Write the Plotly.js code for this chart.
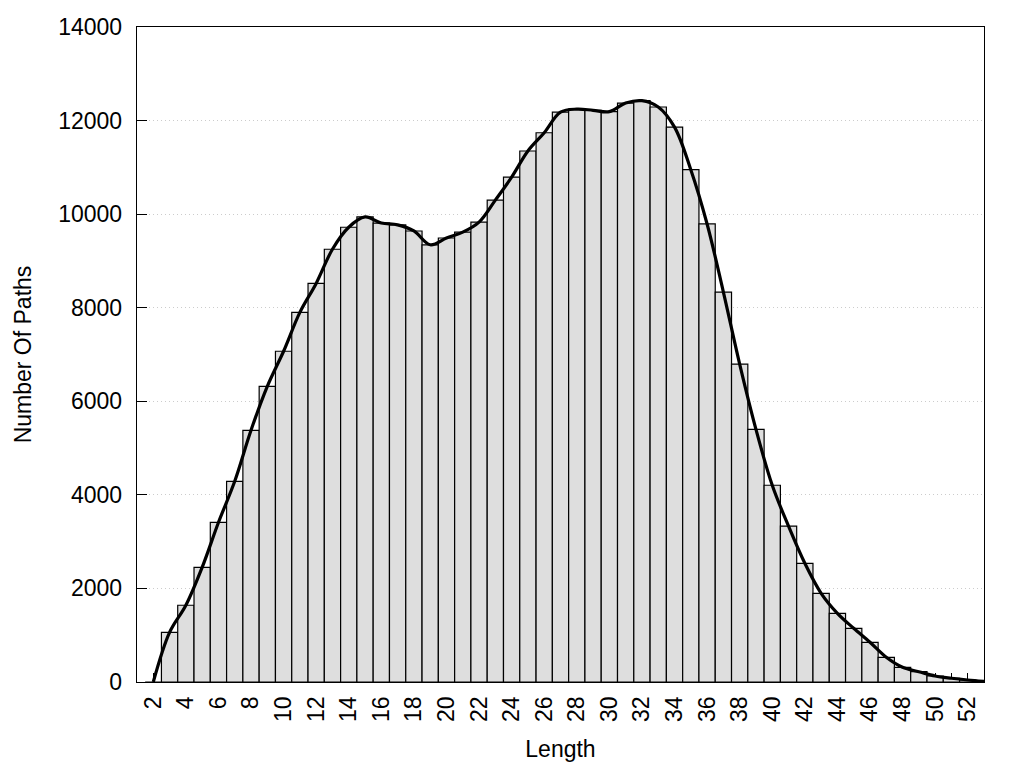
<!DOCTYPE html>
<html>
<head>
<meta charset="utf-8">
<script src="https://cdn.plot.ly/plotly-3.0.1.min.js"></script>
<style>html,body{margin:0;padding:0;background:#fff;}#chart{width:1024px;height:768px;}</style>
</head>
<body>
<div id="chart"></div>
<script>
// Path length (x) and number of paths (y)
const lengths = [2, 3, 4, 5, 6, 7, 8, 9, 10, 11, 12, 13, 14, 15, 16, 17, 18, 19, 20, 21, 22, 23, 24, 25, 26, 27,
  28, 29, 30, 31, 32, 33, 34, 35, 36, 37, 38, 39, 40, 41, 42, 43, 44, 45, 46, 47, 48, 49, 50, 51, 52, 53];
const paths = [0, 1060, 1640, 2450, 3410, 4290, 5380, 6320, 7070, 7900, 8520, 9250, 9720, 9940, 9810, 9770,
  9640, 9345, 9490, 9615, 9830, 10300, 10790, 11350, 11740, 12180, 12245, 12220, 12190, 12375, 12425,
  12290, 11860, 10950, 9790, 8335, 6795, 5400, 4205, 3330, 2537, 1896, 1468, 1148, 849, 528, 314, 220,
  128, 80, 43, 15];

const xTickVals = [2, 3, 4, 5, 6, 7, 8, 9, 10, 11, 12, 13, 14, 15, 16, 17, 18, 19, 20, 21, 22, 23, 24, 25, 26, 27,
  28, 29, 30, 31, 32, 33, 34, 35, 36, 37, 38, 39, 40, 41, 42, 43, 44, 45, 46, 47, 48, 49, 50, 51, 52];
const xTickText = ['2', '', '4', '', '6', '', '8', '', '10', '', '12', '', '14', '', '16', '', '18', '', '20', '',
  '22', '', '24', '', '26', '', '28', '', '30', '', '32', '', '34', '', '36', '', '38', '', '40', '', '42', '',
  '44', '', '46', '', '48', '', '50', '', '52'];
const yTickVals = [0, 2000, 4000, 6000, 8000, 10000, 12000, 14000];
const yTickText = ['0', '2000', '4000', '6000', '8000', '10000', '12000', '14000'];

const font = {family: '"Liberation Sans", Arial, sans-serif', size: 23, color: '#000'};

const traces = [
  {
    type: 'bar',
    x: lengths,
    y: paths,
    width: 1,
    marker: {color: '#dedede', line: {color: '#000', width: 1.2}},
    hoverinfo: 'x+y',
    showlegend: false
  },
  {
    type: 'scatter',
    mode: 'lines',
    x: lengths,
    y: paths,
    line: {color: '#000', width: 3.2, shape: 'spline', smoothing: 1},
    showlegend: false
  }
];

const layout = {
  width: 1024,
  height: 768,
  margin: {l: 137, r: 40, t: 27, b: 86},
  paper_bgcolor: '#fff',
  plot_bgcolor: '#fff',
  font: font,
  bargap: 0,
  showlegend: false,
  xaxis: {
    range: [1, 53],
    tickmode: 'array',
    tickvals: xTickVals,
    ticktext: xTickText,
    tickangle: -90,
    ticks: 'inside',
    ticklen: 9,
    tickwidth: 1,
    tickcolor: '#000',
    ticklabelstandoff: 4,
    showline: true,
    linecolor: '#000',
    linewidth: 1.3,
    mirror: true,
    showgrid: false,
    zeroline: false,
    layer: 'below traces',
    tickfont: font,
    title: {text: 'Length', font: font, standoff: 19}
  },
  yaxis: {
    range: [0, 14000],
    tickmode: 'array',
    tickvals: yTickVals,
    ticktext: yTickText,
    ticks: 'inside',
    ticklen: 10,
    tickwidth: 1,
    tickcolor: '#000',
    ticklabelstandoff: 9,
    showline: true,
    linecolor: '#000',
    linewidth: 1.3,
    mirror: true,
    showgrid: true,
    gridcolor: '#cccccc',
    griddash: '1px,3px',
    gridwidth: 1,
    zeroline: false,
    layer: 'below traces',
    tickfont: font,
    title: {text: 'Number Of Paths', font: font, standoff: 20}
  }
};

Plotly.newPlot('chart', traces, layout, {displayModeBar: false, staticPlot: true});
</script>
</body>
</html>
